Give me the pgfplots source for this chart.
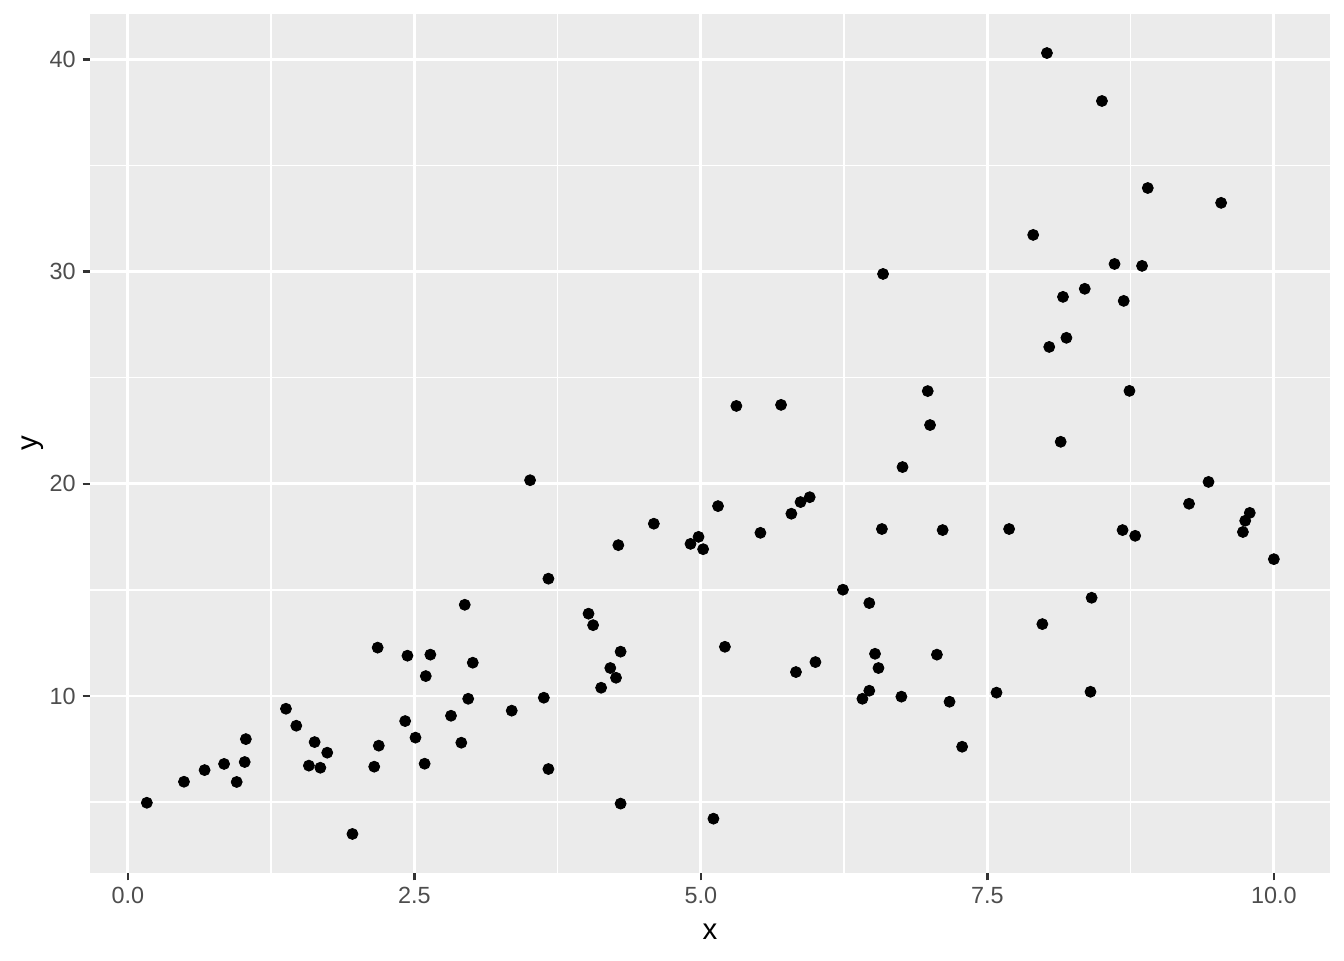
\documentclass[border=0pt]{standalone}
\usepackage{fontspec}
\setmainfont{Liberation Sans}
\usepackage{pgfplots}
\pgfplotsset{compat=1.18}
\usetikzlibrary{calc}

\definecolor{panelbg}{HTML}{EBEBEB}
\definecolor{ticktext}{HTML}{4D4D4D}
\definecolor{tickline}{HTML}{333333}

\begin{document}
\begin{tikzpicture}
\begin{axis}[
    scale only axis,
    width=620pt, height=429.5pt,
    xmin=-0.33, xmax=10.49,
    ymin=1.66, ymax=42.14,
    axis background/.style={fill=panelbg},
    axis line style={draw=none},
    xtick={0,2.5,5,7.5,10},
    ytick={10,20,30,40},
    minor xtick={1.25,3.75,6.25,8.75},
    minor ytick={5,15,25,35},
    xticklabels={0.0,2.5,5.0,7.5,10.0},
    grid=both,
    major grid style={white, line width=1.4pt},
    minor grid style={white, line width=0.7pt},
    tick align=outside,
    xtick pos=lower, ytick pos=left,
    major tick length=3.7pt, minor tick length=0pt,
    tick style={tickline, line width=1.2pt},
    /pgf/number format/assume math mode=true,
    ticklabel style={font=\fontsize{11.7}{14}\selectfont, text=ticktext},
    xlabel={x}, ylabel={y},
    label style={font=\fontsize{14.7}{17}\selectfont},
    xlabel style={at={(axis description cs:0.5,0)}, anchor=center, yshift=-29.5pt},
    ylabel style={at={(axis description cs:0,0.5)}, anchor=center, yshift=28.5pt},
    clip=false,
]
\addplot[only marks, mark=*, mark size=2.75pt, black] coordinates {
(0.166,4.97) (0.49,5.96) (0.67,6.51) (0.84,6.80) (0.95,5.95)
(1.02,6.89) (1.03,7.97) (1.38,9.40) (1.47,8.60) (1.58,6.72)
(1.63,7.83) (1.68,6.62) (1.74,7.33) (1.96,3.50) (2.15,6.67)
(2.18,12.28) (2.19,7.66) (2.42,8.82) (2.44,11.90) (2.51,8.04)
(2.59,6.81) (2.60,10.94) (2.64,11.95) (2.82,9.07) (2.91,7.80)
(2.94,14.30) (2.97,9.87) (3.01,11.57) (3.35,9.31) (3.51,20.17)
(3.63,9.92) (3.67,15.53) (3.67,6.56) (4.02,13.88) (4.06,13.34)
(4.13,10.39) (4.21,11.32) (4.26,10.86) (4.28,17.11) (4.30,4.93)
(4.30,12.09) (4.59,18.12) (4.91,17.17) (4.98,17.50) (5.02,16.92)
(5.11,4.22) (5.15,18.95) (5.21,12.32) (5.31,23.67) (5.52,17.69)
(5.70,23.72) (5.79,18.59) (5.83,11.13) (5.87,19.14) (5.95,19.37)
(6.00,11.60) (6.24,15.01) (6.41,9.87) (6.47,14.38) (6.47,10.25)
(6.52,11.99) (6.55,11.32) (6.58,17.87) (6.59,29.89) (6.75,9.97)
(6.76,20.79) (6.98,24.37) (7.00,22.77) (7.06,11.95) (7.11,17.82)
(7.17,9.73) (7.28,7.61) (7.58,10.16) (7.69,17.87) (7.90,31.73)
(7.98,13.39) (8.02,40.30) (8.04,26.45) (8.14,21.98) (8.16,28.81)
(8.19,26.88) (8.35,29.19) (8.40,10.20) (8.41,14.63) (8.50,38.04)
(8.61,30.36) (8.68,17.82) (8.69,28.62) (8.74,24.38) (8.79,17.55)
(8.85,30.27) (8.90,33.94) (9.26,19.06) (9.43,20.09) (9.54,33.24)
(9.73,17.73) (9.75,18.26) (9.79,18.63) (10.0,16.45)
};
\end{axis}
% fix the page to the reference's margins
\path ($(current axis.south west)+(-45pt,-43.5pt)$) rectangle ($(current axis.north east)+(7pt,7pt)$);
\end{tikzpicture}
\end{document}
